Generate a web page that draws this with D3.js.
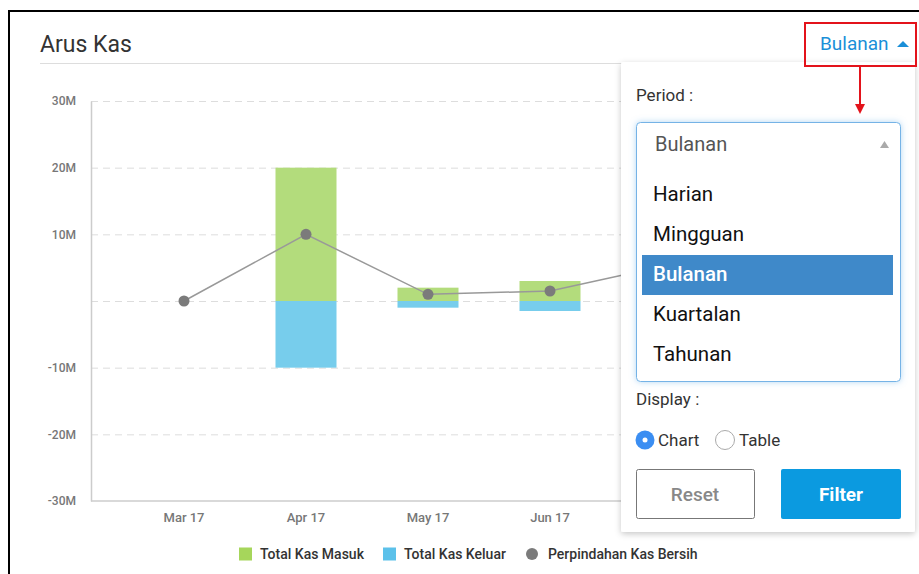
<!DOCTYPE html>
<html>
<head>
<meta charset="utf-8">
<script src="https://cdn.jsdelivr.net/npm/d3@7"></script>
<style>
    body { margin: 0; background: #fff; font-family: Roboto, "Open Sans", sans-serif; }
    svg text { font-family: Roboto, "Open Sans", sans-serif; }
</style>
</head>
<body>
<div class="container"></div>
<script>
// chart data (values in millions)
var months = ["Mar 17", "Apr 17", "May 17", "Jun 17", "Jul 17"];
var kasMasuk = [0, 20, 2, 3, 7];
var kasKeluar = [0, -10, -1, -1.5, -1.5];
var kasBersih = [0, 10, 1, 1.5, 5.5];
var yTicks = [-30, -20, -10, 0, 10, 20, 30];
var legendItems = ["Total Kas Masuk", "Total Kas Keluar", "Perpindahan Kas Bersih"];
var periodOptions = ["Harian", "Mingguan", "Bulanan", "Kuartalan", "Tahunan"];

var width = 919;
var height = 574;
var plot = {left: 91, top: 101, bottom: 501, right: 890};
var colors = {masuk: "#b3dc7c", keluar: "#77cdec", bersih: "#7b7b7b"};
var legendColors = ["#a6d65b", "#5cc1ea", "#7b7b7b"];

function init() {
    var svg = d3.select(".container").append("svg")
        .attr("width", width)
        .attr("height", height);

    var defs = svg.append("defs");
    var shadow = defs.append("filter").attr("id", "shadow")
        .attr("x", "-10%").attr("y", "-10%").attr("width", "120%").attr("height", "120%");
    shadow.append("feDropShadow").attr("dx", 0).attr("dy", 2).attr("stdDeviation", 3)
        .attr("flood-color", "#000").attr("flood-opacity", 0.22);
    var glow = defs.append("filter").attr("id", "glow")
        .attr("x", "-10%").attr("y", "-10%").attr("width", "120%").attr("height", "120%");
    glow.append("feDropShadow").attr("dx", 0).attr("dy", 0).attr("stdDeviation", 3)
        .attr("flood-color", "#66afe9").attr("flood-opacity", 0.5);

    // card outline
    svg.append("path")
        .attr("d", "M9," + height + "V11H" + width)
        .attr("fill", "none")
        .attr("stroke", "#000")
        .attr("stroke-width", 2);

    svg.append("text")
        .attr("x", 40).attr("y", 52)
        .attr("font-size", 23)
        .attr("fill", "#333")
        .text("Arus Kas");

    svg.append("line")
        .attr("x1", 40).attr("x2", 905)
        .attr("y1", 63.5).attr("y2", 63.5)
        .attr("stroke", "#ddd");

    var x = d3.scaleBand()
        .domain(months)
        .range([plot.left + 1.5, plot.left + 1.5 + 122 * 5.5])
        .paddingInner(0.5)
        .paddingOuter(0.5);

    var y = d3.scaleLinear()
        .domain([-30, 30])
        .range([plot.bottom, plot.top]);

    // grid lines
    svg.append("g").selectAll("line")
        .data(yTicks.filter(function (d) { return d > -30; }))
        .enter().append("line")
        .attr("x1", plot.left).attr("x2", plot.right)
        .attr("y1", function (d) { return y(d) + 0.5; })
        .attr("y2", function (d) { return y(d) + 0.5; })
        .attr("stroke", "#ddd")
        .attr("stroke-dasharray", "7,5");

    var yAxis = svg.append("g")
        .attr("transform", "translate(" + plot.left + ",0)")
        .call(d3.axisLeft(y).tickValues(yTicks).tickSize(0).tickPadding(15)
            .tickFormat(function (d) { return d === 0 ? "" : d + "M"; }));
    yAxis.select(".domain").attr("stroke", "#ccc").attr("stroke-width", 1.5);
    yAxis.selectAll("text").attr("font-size", 12).attr("font-weight", 500).attr("fill", "#777")
        .attr("font-family", "Roboto");

    var xAxis = svg.append("g")
        .attr("transform", "translate(0," + plot.bottom + ")")
        .call(d3.axisBottom(x).tickSize(0).tickPadding(12));
    xAxis.select(".domain").attr("d", "M" + plot.left + ",0H" + plot.right)
        .attr("stroke", "#ccc").attr("stroke-width", 1.5);
    xAxis.selectAll("text").attr("font-size", 13).attr("font-weight", 500).attr("fill", "#777")
        .attr("font-family", "Roboto");

    // bars
    svg.append("g").selectAll("rect")
        .data(kasMasuk)
        .enter().append("rect")
        .attr("x", function (d, i) { return x(months[i]); })
        .attr("width", x.bandwidth())
        .attr("y", function (d) { return y(d); })
        .attr("height", function (d) { return y(0) - y(d); })
        .attr("fill", colors.masuk);

    svg.append("g").selectAll("rect")
        .data(kasKeluar)
        .enter().append("rect")
        .attr("x", function (d, i) { return x(months[i]); })
        .attr("width", x.bandwidth())
        .attr("y", y(0))
        .attr("height", function (d) { return y(d) - y(0); })
        .attr("fill", colors.keluar);

    // net line
    var line = d3.line()
        .x(function (d, i) { return x(months[i]) + x.bandwidth() / 2; })
        .y(function (d) { return y(d); });

    svg.append("path")
        .datum(kasBersih)
        .attr("d", line)
        .attr("fill", "none")
        .attr("stroke", "#999")
        .attr("stroke-width", 1.5);

    svg.append("g").selectAll("circle")
        .data(kasBersih)
        .enter().append("circle")
        .attr("cx", function (d, i) { return x(months[i]) + x.bandwidth() / 2; })
        .attr("cy", function (d) { return y(d); })
        .attr("r", 5.5)
        .attr("fill", colors.bersih);

    // legend
    var legendX = [239, 383, 532];
    var legend = svg.append("g").selectAll("g")
        .data(legendItems)
        .enter().append("g")
        .attr("transform", function (d, i) { return "translate(" + legendX[i] + ",554)"; });
    legend.each(function (d, i) {
        var g = d3.select(this);
        if (i < 2) {
            g.append("rect").attr("x", 0).attr("y", -6.5).attr("width", 13).attr("height", 13)
                .attr("fill", legendColors[i]);
        } else {
            g.append("circle").attr("cx", 0).attr("cy", 0).attr("r", 6).attr("fill", legendColors[i]);
        }
    });
    legend.append("text")
        .attr("x", function (d, i) { return i < 2 ? 21 : 16; })
        .attr("dy", "0.35em")
        .attr("font-size", 14)
        .attr("font-weight", 500)
        .attr("fill", "#333")
        .text(function (d) { return d; });

    drawDropdown(svg);
}

function drawDropdown(svg) {
    // toggle button with red highlight
    svg.append("text")
        .attr("x", 820).attr("y", 50)
        .attr("font-size", 19)
        .attr("fill", "#1a8fd8")
        .text("Bulanan");
    svg.append("path")
        .attr("d", "M897,47L903,41L909,47Z")
        .attr("fill", "#1a8fd8");

    var panel = svg.append("g");
    panel.append("rect")
        .attr("x", 621).attr("y", 62).attr("width", 294).attr("height", 470)
        .attr("rx", 2)
        .attr("fill", "#fff")
        .attr("filter", "url(#shadow)");

    svg.append("rect")
        .attr("x", 805).attr("y", 23).attr("width", 111).attr("height", 43)
        .attr("fill", "none").attr("stroke", "#e3131b").attr("stroke-width", 2);

    // arrow
    svg.append("line")
        .attr("x1", 860).attr("x2", 860).attr("y1", 66).attr("y2", 106)
        .attr("stroke", "#e3131b").attr("stroke-width", 2);
    svg.append("path")
        .attr("d", "M855,104L865,104L860,114Z")
        .attr("fill", "#e3131b");

    panel.append("text")
        .attr("x", 636).attr("y", 101)
        .attr("font-size", 17).attr("fill", "#333")
        .text("Period :");

    panel.append("rect")
        .attr("x", 636.5).attr("y", 122.5).attr("width", 264).attr("height", 259)
        .attr("rx", 4)
        .attr("fill", "#fff")
        .attr("stroke", "#74b3e6")
        .attr("filter", "url(#glow)");
    panel.append("text")
        .attr("x", 655).attr("y", 144).attr("dy", "0.35em")
        .attr("font-size", 20).attr("fill", "#555")
        .text("Bulanan");
    panel.append("path")
        .attr("d", "M880,148L884.5,141L889,148Z")
        .attr("fill", "#aaa");

    var opts = panel.append("g").selectAll("g")
        .data(periodOptions)
        .enter().append("g")
        .attr("transform", function (d, i) { return "translate(0," + (194 + i * 40) + ")"; });
    opts.filter(function (d) { return d === "Bulanan"; })
        .append("rect")
        .attr("x", 642).attr("y", -19).attr("width", 251).attr("height", 40)
        .attr("fill", "#3f89c9");
    opts.append("text")
        .attr("x", 653).attr("dy", "0.35em")
        .attr("font-size", 20.5)
        .attr("font-weight", function (d) { return d === "Bulanan" ? 500 : 400; })
        .attr("fill", function (d) { return d === "Bulanan" ? "#fff" : "#111"; })
        .text(function (d) { return d; });

    panel.append("text")
        .attr("x", 636).attr("y", 399).attr("dy", "0.35em")
        .attr("font-size", 17).attr("fill", "#333")
        .text("Display :");

    // radios
    panel.append("circle").attr("cx", 645).attr("cy", 440).attr("r", 9.5).attr("fill", "#3b8ef2");
    panel.append("circle").attr("cx", 645).attr("cy", 440).attr("r", 2.5).attr("fill", "#fff");
    panel.append("text").attr("x", 658).attr("y", 440).attr("dy", "0.35em")
        .attr("font-size", 17).attr("fill", "#333").text("Chart");
    panel.append("circle").attr("cx", 725).attr("cy", 440).attr("r", 9.5)
        .attr("fill", "#fff").attr("stroke", "#aaa");
    panel.append("text").attr("x", 739).attr("y", 440).attr("dy", "0.35em")
        .attr("font-size", 17).attr("fill", "#333").text("Table");

    // buttons
    panel.append("rect")
        .attr("x", 636.5).attr("y", 469.5).attr("width", 118).attr("height", 49)
        .attr("rx", 2).attr("fill", "#fff").attr("stroke", "#777");
    panel.append("text")
        .attr("x", 695).attr("y", 494).attr("dy", "0.35em")
        .attr("text-anchor", "middle")
        .attr("font-size", 19).attr("font-weight", 500).attr("fill", "#888")
        .text("Reset");
    panel.append("rect")
        .attr("x", 781).attr("y", 469).attr("width", 120).attr("height", 50)
        .attr("rx", 2).attr("fill", "#0b9ae0");
    panel.append("text")
        .attr("x", 841).attr("y", 494).attr("dy", "0.35em")
        .attr("text-anchor", "middle")
        .attr("font-size", 19).attr("font-weight", 700).attr("fill", "#fff")
        .text("Filter");
}

init();
</script>
</body>
</html>
